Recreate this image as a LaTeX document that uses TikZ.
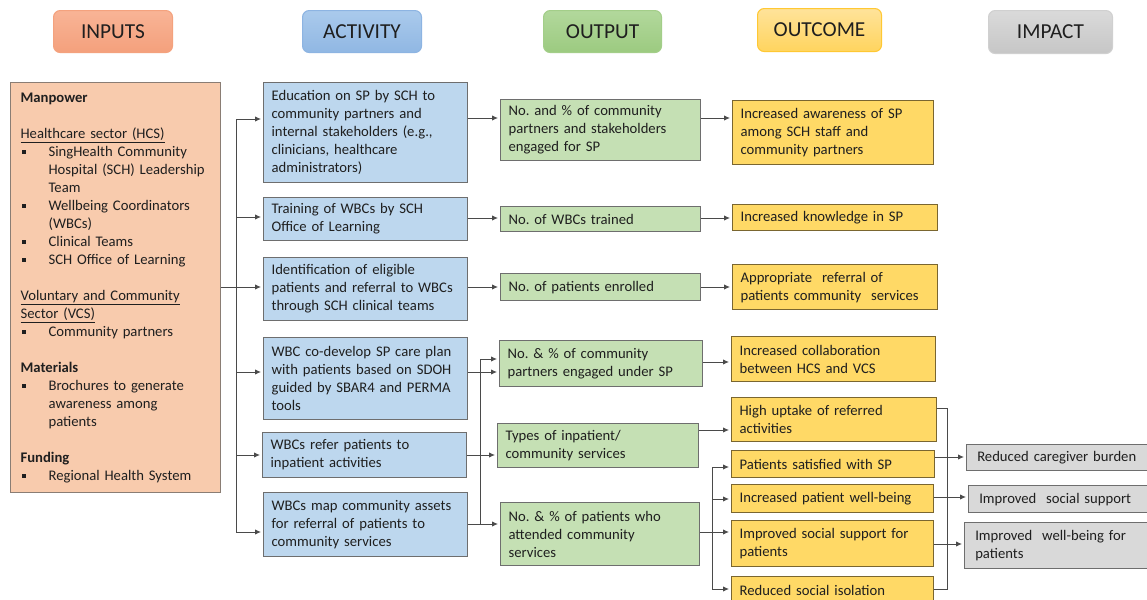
\documentclass[tikz,border=0pt]{standalone}
\usepackage{fontspec}
\setmainfont{Carlito}
\usetikzlibrary{arrows.meta}
\frenchspacing

\definecolor{inpfill}{HTML}{F8CBAD}
\definecolor{actfill}{HTML}{BDD7EE}
\definecolor{outfill}{HTML}{C5E0B4}
\definecolor{ocfill}{HTML}{FFD966}
\definecolor{impfill}{HTML}{D9D9D9}
\definecolor{boxline}{HTML}{6E6E6E}
\definecolor{ocline}{HTML}{7A6630}
\definecolor{inpline}{HTML}{8A7D74}
\definecolor{wire}{HTML}{4A4A4A}
% header colours
\definecolor{hinTop}{HTML}{F8B496}
\definecolor{hinBot}{HTML}{F4A07C}
\definecolor{hinLine}{HTML}{F4A27E}
\definecolor{hacTop}{HTML}{AACAEC}
\definecolor{hacBot}{HTML}{90B7E3}
\definecolor{hacLine}{HTML}{8DB4E2}
\definecolor{houTop}{HTML}{B2D89C}
\definecolor{houBot}{HTML}{9CCA80}
\definecolor{houLine}{HTML}{A3CE89}
\definecolor{hocTop}{HTML}{FFE39A}
\definecolor{hocBot}{HTML}{FFD45E}
\definecolor{hocLine}{HTML}{FFC833}
\definecolor{himTop}{HTML}{DADADA}
\definecolor{himBot}{HTML}{C6C6C6}
\definecolor{himLine}{HTML}{D0D0D0}

\newcommand\bulsq{\makebox[21pt][l]{\hspace{1pt}\raisebox{0.3ex}{\rule{2.8pt}{2.8pt}}}}
\newcommand\bulind{\hspace*{21pt}}

\tikzset{
  wh/.code 2 args={%
    \pgfmathsetlengthmacro\boxw{#1*0.75pt}%
    \pgfmathsetlengthmacro\boxh{#2*0.75pt}%
    \pgfmathsetlengthmacro\boxtw{#1*0.75pt-12pt}%
    \edef\tmpopts{minimum width=\boxw, minimum height=\boxh, text width=\boxtw}%
    \expandafter\tikzset\expandafter{\tmpopts}},
  box/.style={draw=boxline, line width=0.9pt, anchor=north west, align=left,
    inner xsep=6pt, inner ysep=1pt, text=black!88,
    font=\fontsize{11}{13.5}\selectfont},
  hdr/.style={draw, line width=0.8pt, rounded corners=5pt, anchor=north west,
    align=center, inner sep=0pt, text=black!88, font=\fontsize{16}{19}\selectfont},
  inbox/.style={box, draw=inpline, fill=inpfill, inner xsep=7.5pt},
  actbox/.style={box, fill=actfill},
  outbox/.style={box, fill=outfill},
  ocbox/.style={box, draw=ocline, fill=ocfill},
  impbox/.style={box, fill=impfill, inner xsep=8pt},
  link/.style={draw=wire, line width=0.7pt},
  arr/.style={link, -{Latex[length=4.5pt,width=4pt]}, shorten >=1.5pt},
}

\begin{document}
\begin{tikzpicture}[x=0.75pt, y=-0.75pt]
    \useasboundingbox (0,0) rectangle (1147,600);
    \fill[white] (0,0) rectangle (1147,600);
    \clip (0,0) rectangle (1147,600);

    % Column headers
    \node[hdr, draw=hinLine, top color=hinTop, bottom color=hinBot, wh={119}{42}] (hInputs) at (53,10) {INPUTS};
    \node[hdr, draw=hacLine, top color=hacTop, bottom color=hacBot, wh={119}{42}] (hActivity) at (302,10) {ACTIVITY};
    \node[hdr, draw=houLine, top color=houTop, bottom color=houBot, wh={118}{42}] (hOutput) at (543,10) {OUTPUT};
    \node[hdr, draw=hocLine, top color=hocTop, bottom color=hocBot, wh={124}{43}] (hOutcome) at (757,8) {OUTCOME};
    \node[hdr, draw=himLine, top color=himTop, bottom color=himBot, wh={124}{43}] (hImpact) at (988,10) {IMPACT};

    % Inputs
    \node[inbox, wh={206}{410}] (inputs) at (10,82) {%
      \textbf{Manpower}\\[13.5pt]
      \underline{Healthcare sector (HCS)}\\
      \bulsq SingHealth Community\\
      \bulind Hospital (SCH) Leadership\\
      \bulind Team\\
      \bulsq Wellbeing Coordinators\\
      \bulind (WBCs)\\
      \bulsq Clinical Teams\\
      \bulsq SCH Office of Learning\\[13.5pt]
      \underline{Voluntary and Community}\\
      \underline{Sector (VCS)}\\
      \bulsq Community partners\\[13.5pt]
      \textbf{Materials}\\
      \bulsq Brochures to generate\\
      \bulind awareness among\\
      \bulind patients\\[13.5pt]
      \textbf{Funding}\\
      \bulsq Regional Health System};

    % Activities
    \node[actbox, wh={204}{100}] (A1) at (263,82) {Education on SP by SCH to\\ community partners and\\ internal stakeholders (e.g.,\\ clinicians, healthcare\\ administrators)};
    \node[actbox, wh={204}{43}] (A2) at (263,197) {Training of WBCs by SCH\\ Office of Learning};
    \node[actbox, wh={204}{63}] (A3) at (263,257) {Identification of eligible\\ patients and referral to WBCs\\ through SCH clinical teams};
    \node[actbox, wh={204}{82}] (A4) at (263,337) {WBC co-develop SP care plan\\ with patients based on SDOH\\ guided by SBAR4 and PERMA\\ tools};
    \node[actbox, wh={204}{45}] (A5) at (262,432) {WBCs refer patients to\\ inpatient activities};
    \node[actbox, wh={204}{64}] (A6) at (263,492) {WBCs map community assets\\ for referral of patients to\\ community services};

    % Outputs
    \node[outbox, wh={200}{61}] (O1) at (500,99) {No. and \% of community\\ partners and stakeholders\\ engaged for SP};
    \node[outbox, wh={200}{25}] (O2) at (500,206) {No. of WBCs trained};
    \node[outbox, wh={200}{27}] (O3) at (500,273) {No. of patients enrolled};
    \node[outbox, wh={203}{46}] (O4) at (499,340) {No. \& \% of community\\ partners engaged under SP};
    \node[outbox, wh={201}{44}] (O5) at (497,423) {Types of inpatient/\\ community services};
    \node[outbox, wh={199}{63}] (O6) at (500,502) {No. \& \% of patients who\\ attended community\\ services};

    % Outcomes
    \node[ocbox, wh={201}{64}] (C1) at (732,100) {Increased awareness of SP\\ among SCH staff and\\ community partners};
    \node[ocbox, wh={205}{26}] (C2) at (732,204) {Increased knowledge in SP};
    \node[ocbox, wh={205}{45}] (C3) at (732,264) {Appropriate\ \ referral of\\ patients community\ \ services};
    \node[ocbox, wh={204}{45}] (C4) at (731,336) {Increased collaboration\\ between HCS and VCS};
    \node[ocbox, wh={205}{44}] (C5) at (731,397) {High uptake of referred\\ activities};
    \node[ocbox, wh={203}{27}] (C6) at (731,450) {Patients satisfied with SP};
    \node[ocbox, wh={202}{28}] (C7) at (731,484) {Increased patient well-being};
    \node[ocbox, wh={202}{46}] (C8) at (731,520) {Improved social support for\\ patients};
    \node[ocbox, wh={202}{27}] (C9) at (731,576) {Reduced social isolation};

    % Impacts
    \node[impbox, wh={177}{26}] (I1) at (966,444) {Reduced caregiver burden};
    \node[impbox, wh={190}{27}] (I2) at (968,485) {Improved\ \ social support};
    \node[impbox, wh={192}{46}] (I3) at (964,522) {Improved\ \ well-being for\\ patients};

    % Inputs to activities
    \coordinate (ij) at (236,287);
    \draw[link] (inputs.east |- ij) -- (ij);
    \draw[link] (ij |- 0,119) -- (ij |- 0,532);
    \draw[arr] (ij |- 0,119) -- (A1.west |- 0,119);
    \draw[arr] (ij |- 0,217) -- (A2.west |- 0,217);
    \draw[arr] (ij |- 0,287) -- (A3.west |- 0,287);
    \draw[arr] (ij |- 0,372) -- (A4.west |- 0,372);
    \draw[arr] (ij |- 0,455) -- (A5.west |- 0,455);
    \draw[arr] (ij |- 0,532) -- (A6.west |- 0,532);

    % Activities to outputs
    \draw[arr] (A1.east |- 0,118) -- (O1.west |- 0,118);
    \draw[arr] (A2.east |- 0,218) -- (O2.west |- 0,218);
    \draw[arr] (A3.east |- 0,287) -- (O3.west |- 0,287);
    \draw[arr] (A4.east |- 0,372) -- (O4.west |- 0,372);
    \draw[arr] (A5.east |- 0,455) -- (O5.west |- 0,455);
    \draw[arr] (A6.east |- 0,524) -- (O6.west |- 0,524);
    \coordinate (oj) at (480,524);
    \draw[link] (oj) -- (oj |- 0,359);
    \draw[arr] (oj |- 0,359) -- (O4.west |- 0,359);

    % Outputs to outcomes
    \draw[arr] (O1.east |- 0,118) -- (C1.west |- 0,118);
    \draw[arr] (O2.east |- 0,218) -- (C2.west |- 0,218);
    \draw[arr] (O3.east |- 0,287) -- (C3.west |- 0,287);
    \draw[arr] (O4.east |- 0,362) -- (C4.west |- 0,362);
    \draw[arr] (O5.east |- 0,430) -- (C5.west |- 0,430);
    \draw[arr] (O6.east |- 0,532) -- (C8.west |- 0,532);
    \coordinate (cj) at (712,532);
    \draw[link] (cj |- 0,467) -- (cj |- 0,589);
    \draw[arr] (cj |- 0,467) -- (C6.west |- 0,467);
    \draw[arr] (cj |- 0,499) -- (C7.west |- 0,499);
    \draw[arr] (cj |- 0,589) -- (C9.west |- 0,589);

    % Outcomes to impacts
    \coordinate (kj) at (947,457);
    \draw[link] (C5.east |- 0,408) -- (kj |- 0,408) -- (kj |- 0,589) -- (C9.east |- 0,589);
    \draw[arr] (C6.east |- 0,457) -- (I1.west |- 0,457);
    \draw[arr] (C7.east |- 0,497) -- (I2.west |- 0,497);
    \draw[arr] (C8.east |- 0,544) -- (I3.west |- 0,544);
\end{tikzpicture}
\end{document}
